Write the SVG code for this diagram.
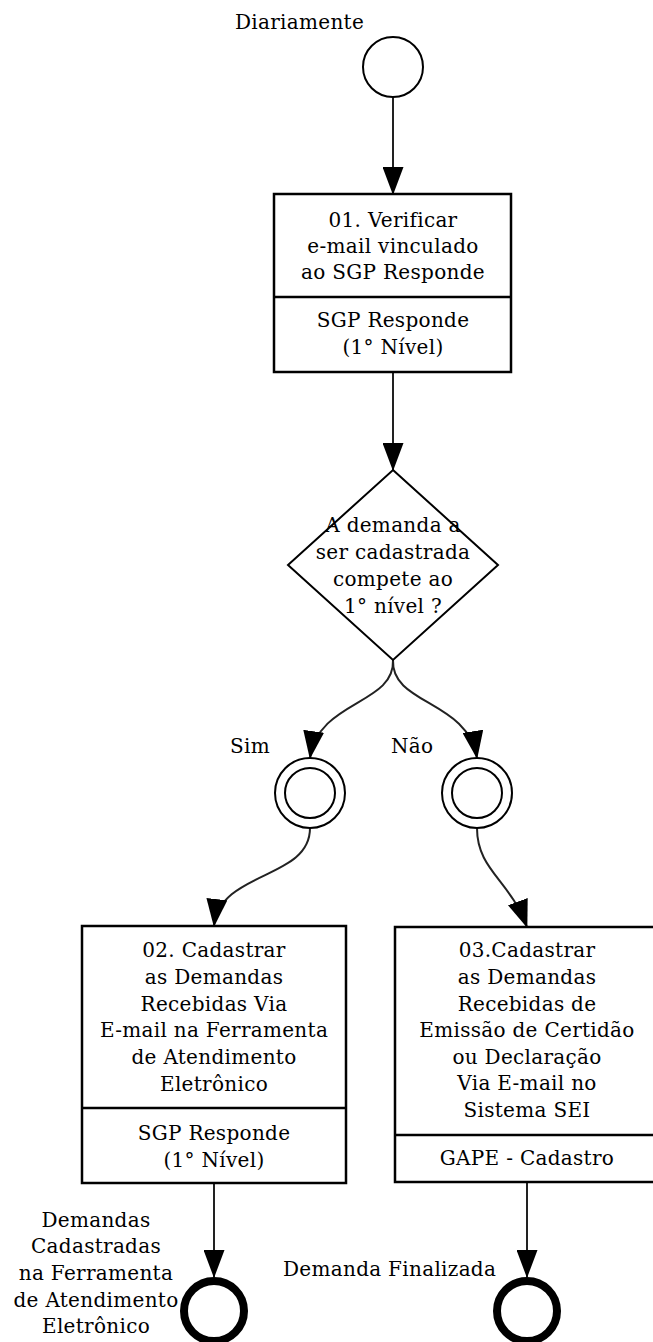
<svg xmlns="http://www.w3.org/2000/svg" width="653" height="1342" viewBox="0 0 653 1342">
<style>
text{font-family:"DejaVu Serif",serif;font-size:20px;letter-spacing:0.3px;fill:#000}
.c{text-anchor:middle}
.box{fill:#fff;stroke:#000;stroke-width:2.5}
.div{stroke:#000;stroke-width:2.5}
.ev{fill:#fff;stroke:#000;stroke-width:2}
.end{fill:#fff;stroke:#000;stroke-width:8}
.edge{fill:none;stroke:#222;stroke-width:2;marker-end:url(#arr)}
</style>
<defs>
<marker id="arr" markerUnits="userSpaceOnUse" markerWidth="28" markerHeight="21" refX="27" refY="10.5" orient="auto">
<path d="M0,0 L28,10.5 L0,21 z" fill="#000"/>
</marker>
</defs>
<g id="edges">
<path class="edge" d="M393,97 L393,194"/>
<path class="edge" d="M393,372 L393,470"/>
<path class="edge" d="M393,660 C395,705 318,700 310,758"/>
<path class="edge" d="M393,660 C391,705 468,700 477,758"/>
<path class="edge" d="M310,828 C310,880 220,870 214,926"/>
<path class="edge" d="M477,828 C477,870 510,880 527,927"/>
<path class="edge" d="M214,1183 L214,1277"/>
<path class="edge" d="M527,1182 L527,1277"/>
</g>
<g id="start">
<circle class="ev" cx="393" cy="67" r="30"/>
<text x="235" y="29">Diariamente</text>
</g>
<g id="task01">
<rect class="box" x="274" y="194" width="237" height="178"/>
<line class="div" x1="274" y1="297" x2="511" y2="297"/>
<text class="c" x="393" y="227">01. Verificar</text>
<text class="c" x="393" y="253">e-mail vinculado</text>
<text class="c" x="393" y="279">ao SGP Responde</text>
<text class="c" x="393" y="327">SGP Responde</text>
<text class="c" x="393" y="354">(1° Nível)</text>
</g>
<g id="gateway">
<polygon class="ev" points="393,470 498,565 393,660 288,565"/>
<text class="c" x="393" y="532">A demanda a</text>
<text class="c" x="393" y="559">ser cadastrada</text>
<text class="c" x="393" y="586">compete ao</text>
<text class="c" x="393" y="613">1° nível ?</text>
</g>
<g id="sim">
<circle class="ev" cx="310" cy="793" r="35"/>
<circle class="ev" cx="310" cy="793" r="25"/>
<text x="230" y="753">Sim</text>
</g>
<g id="nao">
<circle class="ev" cx="477" cy="793" r="35"/>
<circle class="ev" cx="477" cy="793" r="25"/>
<text x="391" y="753">Não</text>
</g>
<g id="task02">
<rect class="box" x="82" y="926" width="264" height="257"/>
<line class="div" x1="82" y1="1108" x2="346" y2="1108"/>
<text class="c" x="214" y="957">02. Cadastrar</text>
<text class="c" x="214" y="984">as Demandas</text>
<text class="c" x="214" y="1011">Recebidas Via</text>
<text class="c" x="214" y="1037">E-mail na Ferramenta</text>
<text class="c" x="214" y="1064">de Atendimento</text>
<text class="c" x="214" y="1091">Eletrônico</text>
<text class="c" x="214" y="1140">SGP Responde</text>
<text class="c" x="214" y="1167">(1° Nível)</text>
</g>
<g id="task03">
<rect class="box" x="395" y="927" width="264" height="255"/>
<line class="div" x1="395" y1="1135" x2="659" y2="1135"/>
<text class="c" x="527" y="957">03.Cadastrar</text>
<text class="c" x="527" y="984">as Demandas</text>
<text class="c" x="527" y="1011">Recebidas de</text>
<text class="c" x="527" y="1037">Emissão de Certidão</text>
<text class="c" x="527" y="1064">ou Declaração</text>
<text class="c" x="527" y="1090">Via E-mail no</text>
<text class="c" x="527" y="1117">Sistema SEI</text>
<text class="c" x="527" y="1165">GAPE - Cadastro</text>
</g>
<g id="end1">
<circle class="end" cx="214" cy="1311" r="30"/>
<text class="c" x="96" y="1227">Demandas</text>
<text class="c" x="96" y="1253">Cadastradas</text>
<text class="c" x="96" y="1280">na Ferramenta</text>
<text class="c" x="96" y="1307">de Atendimento</text>
<text class="c" x="96" y="1333">Eletrônico</text>
</g>
<g id="end2">
<circle class="end" cx="527" cy="1311" r="30"/>
<text x="283" y="1276">Demanda Finalizada</text>
</g>
</svg>
